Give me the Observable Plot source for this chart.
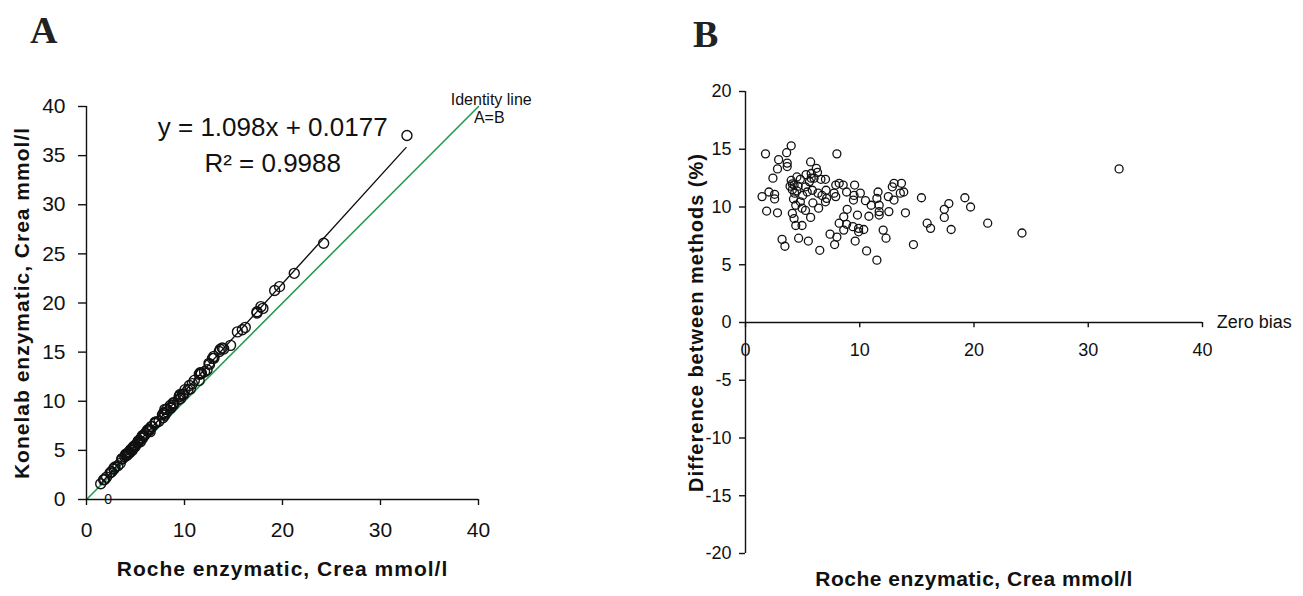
<!DOCTYPE html>
<html><head><meta charset="utf-8">
<script src="https://cdn.jsdelivr.net/npm/d3@7"></script>
<script src="https://cdn.jsdelivr.net/npm/@observablehq/plot@0.6"></script>
<style>
body{margin:0;background:#fff;}
#wrap{position:relative;width:1303px;height:596px;overflow:hidden;background:#fff;}
#wrap svg{position:absolute;top:0;}
#wrap svg g[font-weight="bold"] text{letter-spacing:1px;}
.panel-letter{position:absolute;font-family:"Liberation Serif","DejaVu Serif",serif;font-weight:bold;font-size:38px;line-height:1;color:#222;}
</style></head><body><div id="wrap"></div>
<script>
// Roche enzymatic creatinine (x, both panels)
const roche = [1.75,4.0,3.6,2.9,3.65,3.65,2.8,2.4,1.45,2.05,2.55,2.55,1.85,2.8,3.2,3.45,4.65,5.5,6.5,8.0,5.7,6.2,6.3,5.75,5.75,4.0,4.25,4.8,4.1,4.3,4.5,5.25,5.85,6.35,7.0,7.05,7.9,8.2,8.55,7.75,7.9,4.8,4.4,4.95,5.9,6.4,7.0,7.1,4.1,4.25,4.4,4.95,5.7,5.25,8.9,8.6,9.8,8.2,8.85,9.4,9.9,10.35,8.6,7.4,8.0,7.8,9.6,9.9,10.6,11.5,8.85,9.55,9.5,9.45,10.05,10.5,11.0,10.8,11.6,11.5,11.7,11.7,11.7,12.55,12.05,12.3,12.5,13.0,12.85,13.0,13.65,13.55,13.85,14.0,14.7,15.4,15.9,16.2,17.4,17.8,17.4,18.0,19.2,19.7,21.2,24.2,32.7,4.1,4.6,5.0,5.4,5.6,6.0,6.6,4.2,5.3,6.7,3.9,4.5];
// Konelab enzymatic creatinine (y, panel A)
const konelab = [2.01,4.61,4.13,3.31,4.15,4.14,3.17,2.70,1.61,2.28,2.83,2.82,2.03,3.07,3.43,3.68,4.99,5.89,6.91,9.17,6.49,7.03,7.12,6.49,6.47,4.49,4.76,5.40,4.57,4.78,5.01,5.87,6.52,7.06,7.87,7.86,8.84,9.19,9.57,8.62,8.76,5.30,4.85,5.44,6.51,7.03,7.73,7.86,4.49,4.63,4.77,5.37,6.22,5.76,9.77,9.39,10.71,8.91,9.60,10.18,10.71,11.18,9.29,7.97,8.59,8.33,10.28,10.68,11.26,12.12,9.85,10.69,10.55,10.45,11.18,11.61,12.12,11.79,12.91,12.74,12.89,12.82,12.79,13.75,13.01,13.20,13.86,14.38,14.36,14.57,15.30,15.07,15.42,15.33,15.69,17.06,17.27,17.52,19.11,19.63,18.98,19.45,21.27,21.67,23.02,26.08,37.05,4.59,5.14,5.55,6.01,6.28,6.75,7.42,4.65,5.98,7.44,4.36,5.07];
// Difference between methods, % (y, panel B)
const diffPct = [14.6,15.3,14.7,14.1,13.8,13.5,13.3,12.5,10.9,11.3,11.1,10.7,9.65,9.5,7.2,6.6,7.3,7.05,6.25,14.6,13.9,13.35,13.0,12.9,12.5,12.3,11.9,12.4,11.5,11.2,11.4,11.75,11.45,11.2,12.4,11.45,11.9,12.05,11.9,11.2,10.9,10.45,10.15,9.9,10.35,9.9,10.45,10.75,9.45,9.0,8.4,8.4,9.1,9.7,9.8,9.15,9.3,8.6,8.5,8.3,8.15,8.05,8.0,7.65,7.4,6.75,7.05,7.85,6.2,5.4,11.3,11.9,11.0,10.6,11.2,10.55,10.15,9.2,11.3,10.75,10.15,9.6,9.3,9.6,8.0,7.3,10.9,10.6,11.75,12.05,12.05,11.2,11.3,9.5,6.75,10.8,8.6,8.15,9.8,10.3,9.1,8.05,10.8,10.0,8.6,7.75,13.3,12.0,11.8,11.0,11.3,12.2,12.5,12.4,10.7,12.8,11.0,11.8,12.6];

const fit = {slope: 1.098, intercept: 0.0177};
const fitRange = [1.4, 32.6];
const identityRange = [0, 40];
const xTicks = [0, 10, 20, 30, 40];
const yTicksA = [0, 5, 10, 15, 20, 25, 30, 35, 40];
const yTicksB = [-20, -15, -10, -5, 0, 5, 10, 15, 20];
const labels = {
  xA: "Roche enzymatic, Crea mmol/l",
  yA: "Konelab enzymatic, Crea mmol/l",
  xB: "Roche enzymatic, Crea mmol/l",
  yB: "Difference between methods (%)",
  eq: "y = 1.098x + 0.0177",
  r2: "R\u00B2 = 0.9988",
  id1: "Identity line",
  id2: "A=B",
  zero: "Zero bias",
  stray: "0"
};

const rows = roche.map((x, i) => ({roche: x, konelab: konelab[i], diff: diffPct[i]}));
const green = "#1f9e50";
const font = "'Liberation Sans', Arial, Helvetica, sans-serif";
const baseStyle = {fontFamily: font, fontSize: "20px", background: "transparent", color: "#111", overflow: "visible"};

const plotA = Plot.plot({
  width: 650, height: 596,
  marginLeft: 86, marginRight: 172, marginTop: 106, marginBottom: 97,
  x: {domain: [0, 40]}, y: {domain: [0, 40]},
  style: baseStyle,
  marks: [
    Plot.line(identityRange.map(v => ({x: v, y: v})), {x: "x", y: "y", stroke: green, strokeWidth: 1.6}),
    Plot.line(fitRange.map(x => ({x, y: fit.slope * x + fit.intercept})), {x: "x", y: "y", stroke: "#111", strokeWidth: 1.4}),
    Plot.dot(rows, {x: "roche", y: "konelab", r: 5, stroke: "#111", strokeWidth: 1.4, fill: "none"}),
    Plot.ruleX([0], {strokeWidth: 1.4, stroke: "#111"}),
    Plot.ruleY([0], {strokeWidth: 1.4, stroke: "#111"}),
    Plot.axisX({ticks: xTicks, tickSize: 6, tickPadding: 17, fontSize: 21, label: null, strokeWidth: 1.4, tickFormat: d => String(d)}),
    Plot.axisY({ticks: yTicksA, tickSize: 8, tickPadding: 13, fontSize: 21, label: null, strokeWidth: 1.4, tickFormat: d => String(d)}),
    Plot.text([labels.xA], {frameAnchor: "bottom", dy: 70, lineAnchor: "middle", textAnchor: "middle", fontWeight: "bold", fontSize: 21}),
    Plot.text([labels.yA], {frameAnchor: "left", dx: -64, rotate: -90, lineAnchor: "middle", textAnchor: "middle", fontWeight: "bold", fontSize: 21}),
    Plot.text([{x: 19.0, y: 37.85, t: labels.eq}], {x: "x", y: "y", text: "t", fontSize: 26}),
    Plot.text([{x: 19.0, y: 34.2, t: labels.r2}], {x: "x", y: "y", text: "t", fontSize: 26}),
    Plot.text([{x: 41.3, y: 40.65, t: labels.id1}], {x: "x", y: "y", text: "t", fontSize: 16}),
    Plot.text([{x: 41.1, y: 38.85, t: labels.id2}], {x: "x", y: "y", text: "t", fontSize: 16}),
    Plot.text([{x: 2.2, y: 0, t: labels.stray}], {x: "x", y: "y", text: "t", fontSize: 14})
  ]
});

const plotB = Plot.plot({
  width: 653, height: 596,
  marginLeft: 95, marginRight: 101, marginTop: 91, marginBottom: 43,
  x: {domain: [0, 40], axis: null}, y: {domain: [-20, 20]},
  style: baseStyle,
  marks: [
    Plot.ruleX([0], {strokeWidth: 1.4, stroke: "#111"}),
    Plot.ruleY([0], {strokeWidth: 1.4, stroke: "#111"}),
    Plot.ruleX(xTicks, {x: d => d, y1: 0, y2: -0.45, strokeWidth: 1.4, stroke: "#111"}),
    Plot.text(xTicks, {x: d => d, y: 0, dy: 21, lineAnchor: "top", fontSize: 18, text: d => String(d)}),
    Plot.axisY({ticks: yTicksB, tickSize: 6, tickPadding: 8, fontSize: 18, label: null, strokeWidth: 1.4, tickFormat: d => String(d)}),
    Plot.dot(rows, {x: "roche", y: "diff", r: 4, stroke: "#111", strokeWidth: 1.3, fill: "none"}),
    Plot.text([{x: 41.25, y: 0, t: labels.zero}], {x: "x", y: "y", text: "t", textAnchor: "start", fontSize: 18}),
    Plot.text([labels.xB], {frameAnchor: "bottom", dy: 26, lineAnchor: "middle", textAnchor: "middle", fontWeight: "bold", fontSize: 21}),
    Plot.text([labels.yB], {frameAnchor: "left", dx: -49, rotate: -90, lineAnchor: "middle", textAnchor: "middle", fontWeight: "bold", fontSize: 20})
  ]
});

// fine-tune letter spacing of panel B's x-axis title
d3.select(plotB).selectAll("text").filter(function() { return this.textContent === labels.xB; })
  .style("letter-spacing", "0.5px");

const wrap = document.getElementById("wrap");
plotA.style.left = "0px";
plotB.style.left = "650px";
wrap.appendChild(plotA);
wrap.appendChild(plotB);

for (const [txt, left, top] of [["A", 30, 11], ["B", 693, 15]]) {
  const d = document.createElement("div");
  d.className = "panel-letter";
  d.textContent = txt;
  d.style.left = left + "px";
  d.style.top = top + "px";
  wrap.appendChild(d);
}
</script></body></html>
